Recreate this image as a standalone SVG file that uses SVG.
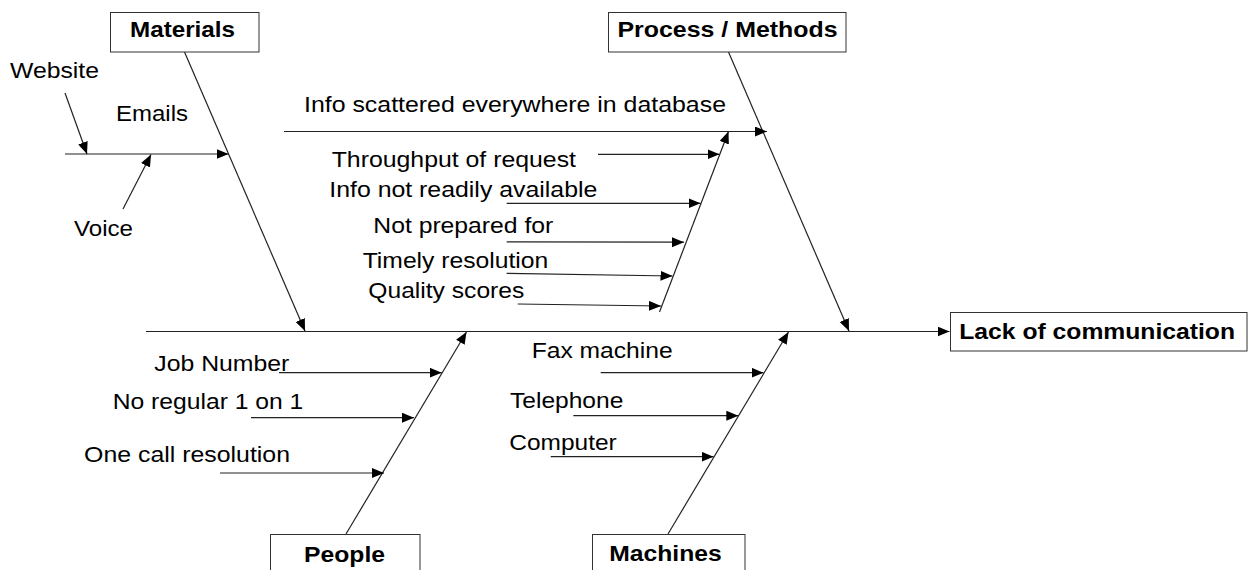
<svg xmlns="http://www.w3.org/2000/svg" width="1249" height="570" viewBox="0 0 1249 570">
<style>
  .t { font-family: "Liberation Sans", Arial, sans-serif; font-size: 22px; fill: #000; }
  .b { font-family: "Liberation Sans", Arial, sans-serif; font-size: 22px; font-weight: bold; fill: #000; }
  .box { fill: #fff; stroke: #333; stroke-width: 1; }
  .ln { fill: none; stroke: #222; stroke-width: 1.2; }
  .la { fill: none; stroke: #222; stroke-width: 1.2; marker-end: url(#ah); }
</style>
<defs>
  <marker id="ah" markerUnits="userSpaceOnUse" markerWidth="13" markerHeight="11" refX="12" refY="5" orient="auto">
    <path d="M0,0 L12,5 L0,10 z" fill="#000"/>
  </marker>
</defs>
<rect width="1249" height="570" fill="#fff"/>

<g id="connectors">
  <!-- spine -->
  <line class="la" x1="146" y1="331.5" x2="949.5" y2="331.5"/>
  <!-- main bones -->
  <line class="la" x1="184.5" y1="52" x2="305" y2="331"/>
  <line class="la" x1="728.5" y1="52" x2="849" y2="331"/>
  <line class="la" x1="346" y1="534" x2="466.5" y2="332"/>
  <line class="la" x1="668" y1="534" x2="788.5" y2="332"/>
  <!-- materials sub -->
  <line class="la" x1="65" y1="154" x2="228.5" y2="154"/>
  <line class="la" x1="65" y1="93" x2="87" y2="154"/>
  <line class="la" x1="123" y1="209" x2="151" y2="154.5"/>
  <!-- process subs -->
  <line class="la" x1="284" y1="131.5" x2="767" y2="131.5"/>
  <line class="la" x1="659.5" y1="312" x2="728.5" y2="131.5"/>
  <line class="la" x1="598" y1="154.3" x2="719.5" y2="154.3"/>
  <line class="la" x1="506.7" y1="203.3" x2="700.5" y2="203.3"/>
  <line class="la" x1="506.7" y1="241.8" x2="684" y2="242.2"/>
  <line class="la" x1="506.7" y1="273.3" x2="672.5" y2="276"/>
  <line class="la" x1="517.7" y1="304" x2="661" y2="306"/>
  <!-- people subs -->
  <line class="la" x1="279" y1="372.7" x2="441.7" y2="372.7"/>
  <line class="la" x1="251" y1="417.7" x2="414" y2="417.7"/>
  <line class="la" x1="220" y1="473" x2="384" y2="473"/>
  <!-- machines subs -->
  <line class="la" x1="600.7" y1="372.7" x2="763.5" y2="372.7"/>
  <line class="la" x1="573.3" y1="415.7" x2="738.3" y2="415.7"/>
  <line class="la" x1="550.7" y1="456.7" x2="713.5" y2="456.7"/>
</g>

<g id="materials">
  <rect class="box" x="110.5" y="12.5" width="148.5" height="39.5"/>
  <text class="b" x="130" y="37" textLength="105" lengthAdjust="spacingAndGlyphs">Materials</text>
</g>
<g id="process">
  <rect class="box" x="608.5" y="12.5" width="237.5" height="39.5"/>
  <text class="b" x="617.5" y="37" textLength="220" lengthAdjust="spacingAndGlyphs">Process / Methods</text>
</g>
<g id="people">
  <rect class="box" x="270.5" y="534.5" width="149.5" height="50"/>
  <text class="b" x="304" y="561.7" textLength="81" lengthAdjust="spacingAndGlyphs">People</text>
</g>
<g id="machines">
  <rect class="box" x="592.5" y="534.5" width="152.5" height="50"/>
  <text class="b" x="609.3" y="560.7" textLength="112.4" lengthAdjust="spacingAndGlyphs">Machines</text>
</g>
<g id="effect">
  <rect class="box" x="950.5" y="312.5" width="296.5" height="38.5"/>
  <text class="b" x="959.3" y="339.3" textLength="275.7" lengthAdjust="spacingAndGlyphs">Lack of communication</text>
</g>

<g id="cause-labels">
  <text class="t" x="10" y="77.5" textLength="89" lengthAdjust="spacingAndGlyphs">Website</text>
  <text class="t" x="116" y="121" textLength="72" lengthAdjust="spacingAndGlyphs">Emails</text>
  <text class="t" x="74" y="236" textLength="59" lengthAdjust="spacingAndGlyphs">Voice</text>
  <text class="t" x="304" y="111.7" textLength="422" lengthAdjust="spacingAndGlyphs">Info scattered everywhere in database</text>
  <text class="t" x="331.7" y="166.7" textLength="244.3" lengthAdjust="spacingAndGlyphs">Throughput of request</text>
  <text class="t" x="329.3" y="196.7" textLength="268" lengthAdjust="spacingAndGlyphs">Info not readily available</text>
  <text class="t" x="373.3" y="233.3" textLength="180" lengthAdjust="spacingAndGlyphs">Not prepared for</text>
  <text class="t" x="362.7" y="267.7" textLength="185.6" lengthAdjust="spacingAndGlyphs">Timely resolution</text>
  <text class="t" x="368.3" y="298.3" textLength="156" lengthAdjust="spacingAndGlyphs">Quality scores</text>
  <text class="t" x="154.3" y="371" textLength="135" lengthAdjust="spacingAndGlyphs">Job Number</text>
  <text class="t" x="112.7" y="408.5" textLength="190.6" lengthAdjust="spacingAndGlyphs">No regular 1 on 1</text>
  <text class="t" x="84.1" y="461.7" textLength="205.9" lengthAdjust="spacingAndGlyphs">One call resolution</text>
  <text class="t" x="531.7" y="358.3" textLength="141" lengthAdjust="spacingAndGlyphs">Fax machine</text>
  <text class="t" x="510" y="408.3" textLength="113.3" lengthAdjust="spacingAndGlyphs">Telephone</text>
  <text class="t" x="509.3" y="450" textLength="107.4" lengthAdjust="spacingAndGlyphs">Computer</text>
</g>
</svg>
